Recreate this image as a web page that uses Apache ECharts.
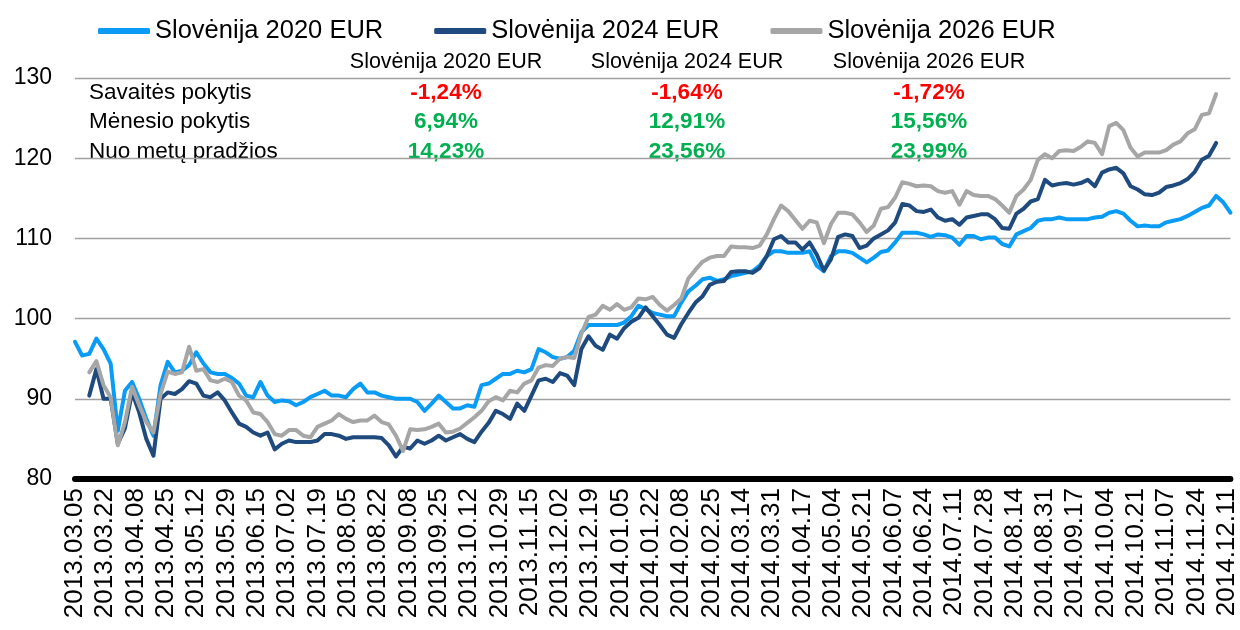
<!DOCTYPE html>
<html>
<head>
<meta charset="utf-8">
<script src="https://cdn.jsdelivr.net/npm/echarts@6/dist/echarts.min.js"></script>
<style>html,body{margin:0;padding:0;background:#fff}#c{width:1240px;height:630px}</style>
</head>
<body>
<div id="c"></div>
<script>
// ---- data ----
const startDate = '2013-03-05';     // first category date
const stepDays = 4;                  // spacing of the sampled observations (days)
const labelEveryDays = 17;           // x-axis label spacing (days)
const lastLabelDay = 646;            // 2014.12.11

const seriesNames = ['Slovėnija 2020 EUR', 'Slovėnija 2024 EUR', 'Slovėnija 2026 EUR'];

const s2020 = [97.1,95.4,95.6,97.5,96.2,94.4,86,91,92.1,90,87.5,85.4,91.7,94.6,93.3,93.5,94.2,95.8,94.4,93.3,
93.1,93.1,92.6,91.9,90.4,90.2,92.1,90.4,89.6,89.8,89.7,89.2,89.6,90.2,90.6,91.0,90.4,90.4,90.2,91.2,
91.9,90.8,90.8,90.4,90.2,90,90,90,89.6,88.5,89.4,90.4,89.6,88.8,88.8,89.2,89,91.7,91.9,92.5,
93.1,93.1,93.5,93.3,93.7,96.2,95.8,95.2,95,95.2,96,98.3,99.2,99.2,99.2,99.2,99.2,99.5,100.3,101.6,
101.2,100.7,100.5,100.3,100.3,102,103.4,104.1,104.9,105.1,104.7,104.9,105.3,105.5,105.7,105.9,106.6,107.8,108.4,108.4,
108.2,108.2,108.2,108.4,106.6,105.9,107.8,108.4,108.4,108.2,107.6,107,107.6,108.3,108.5,109.5,110.7,110.7,110.7,110.5,
110.2,110.5,110.4,110.1,109.2,110.3,110.3,109.9,110.1,110.1,109.3,109,110.5,110.9,111.3,112.2,112.4,112.4,112.6,112.4,
112.4,112.4,112.4,112.6,112.7,113.2,113.4,113.1,112.2,111.5,111.6,111.5,111.5,112,112.2,112.4,112.8,113.3,113.8,114.1,
115.3,114.5,113.2];

const s2024 = [null,null,90.4,93.7,90,90,84.4,86.3,90.8,88.3,85,82.9,90,90.8,90.6,91.2,92.2,91.9,90.4,90.2,
90.8,89.8,88.3,86.9,86.5,85.8,85.4,85.8,83.7,84.4,84.8,84.6,84.6,84.6,84.8,85.6,85.6,85.4,85,85.2,
85.2,85.2,85.2,85.1,84.2,82.8,84,83.8,84.8,84.4,84.8,85.4,84.8,85.2,85.6,85,84.6,85.9,87,88.5,
88.1,87.5,89.4,88.5,90.4,92.3,92.5,92.1,93.2,92.9,91.7,96.2,97.8,96.6,96.1,98,97.5,98.8,99.6,100.1,
101.4,100.3,99.2,98,97.6,99.3,100.7,102,102.8,104.2,104.6,104.7,105.8,105.9,105.9,105.7,106.3,107.8,109.9,110.3,
109.5,109.5,108.6,109.5,108,106,107.4,110.2,110.5,110.3,108.8,109.1,110,110.5,111,112,114.3,114.1,113.4,113.3,
113.6,112.6,112.2,112.4,111.7,112.6,112.8,113,113,112.4,111.3,111.2,113.1,113.7,114.6,114.9,117.3,116.6,116.8,116.9,
116.7,116.9,117.3,116.5,118.2,118.6,118.8,118.1,116.5,116.1,115.5,115.4,115.7,116.4,116.6,116.9,117.4,118.3,119.8,120.3,
121.9];

const s2026 = [null,null,93.3,94.7,91.7,90.2,84.2,87.1,91.5,89.2,87.1,85.8,90.6,93.4,93.1,93.3,96.5,93.5,93.7,92.3,
92.1,92.5,92.1,90.4,89.8,88.3,88.1,87.1,85.6,85.4,86.1,86.1,85.4,85.2,86.5,86.9,87.3,88.1,87.5,87.1,
87.3,87.3,87.9,87.1,86.8,85.4,83.5,86.2,86.1,86.2,86.5,86.9,85.8,85.9,86.3,87,87.7,88.5,89.7,90.2,
89.8,91,90.8,91.9,92.3,93.9,94.2,94.1,95,95.2,95.1,98.1,100.2,100.5,101.6,101.1,101.8,101.1,101.4,102.5,
102.4,102.7,101.7,101,101.7,102.5,105,106.1,107.1,107.6,107.8,107.8,109,108.9,108.9,108.8,109.1,110.5,112.4,114.1,
113.4,112.3,111.2,112.2,112,109.4,111.8,113.2,113.2,113,112,110.8,111.6,113.7,113.9,115.1,117,116.8,116.5,116.6,
116.5,115.9,115.7,115.9,114.2,115.9,115.4,115.3,115.3,114.9,114.1,113.2,115.3,116.1,117.3,119.8,120.5,120,120.9,121,
120.9,121.4,122.1,121.9,120.5,124,124.4,123.5,121.3,120.2,120.7,120.7,120.7,121,121.7,122.1,123.1,123.6,125.4,125.6,
128];

const yTicks = [80, 90, 100, 110, 120, 130];

const tableRowLabels = ['Savaitės pokytis', 'Mėnesio pokytis', 'Nuo metų pradžios'];
const weeklyChange = ['-1,24%', '-1,64%', '-1,72%'];
const monthlyChange = ['6,94%', '12,91%', '15,56%'];
const ytdChange = ['14,23%', '23,56%', '23,99%'];

// ---- build ----
const colors = ['#0a9cf5', '#1f4a7e', '#a6a6a6'];
const FONT = "'Liberation Sans', Arial, sans-serif";
const t0 = Date.UTC(2013, 2, 5);
function pad(n){return n < 10 ? '0' + n : '' + n;}
function dayLabel(d){
  const dt = new Date(t0 + d * 86400000);
  return dt.getUTCFullYear() + '.' + pad(dt.getUTCMonth() + 1) + '.' + pad(dt.getUTCDate());
}
function toPoints(arr){
  const out = [];
  arr.forEach((v, i) => { if (v !== null) out.push([i * stepDays, v]); });
  return out;
}
const allSeries = [s2020, s2024, s2026];

const colX = [446, 687, 929];
const headerY = 62;
const rowY = [93, 122, 152];
const graphics = [];
seriesNames.forEach((n, j) => graphics.push({
  type: 'text', x: colX[j], y: headerY,
  style: {text: n, font: '21.5px ' + FONT, fill: '#000', textAlign: 'center', textVerticalAlign: 'middle'}
}));
const rowsVals = [weeklyChange, monthlyChange, ytdChange];
tableRowLabels.forEach((lab, r) => {
  graphics.push({type: 'text', x: 89, y: rowY[r],
    style: {text: lab, font: '22.5px ' + FONT, fill: '#000', textAlign: 'left', textVerticalAlign: 'middle'}});
  rowsVals[r].forEach((v, j) => graphics.push({type: 'text', x: colX[j], y: rowY[r],
    style: {text: v, font: 'bold 22.5px ' + FONT, fill: v.trim().charAt(0) === '-' ? '#ff0000' : '#00b050',
      textAlign: 'center', textVerticalAlign: 'middle'}}));
});

const chart = echarts.init(document.getElementById('c'), null, {renderer: 'canvas'});
chart.setOption({
  animation: false,
  backgroundColor: '#fff',
  textStyle: {fontFamily: FONT},
  legend: {
    left: 93, top: 13, itemWidth: 52, itemHeight: 6, itemGap: 51, icon: 'roundRect',
    textStyle: {fontSize: 25.5, color: '#000', fontFamily: FONT},
    data: seriesNames
  },
  grid: {left: 75, right: 9.6, top: 78, bottom: 151, containLabel: false},
  xAxis: {
    type: 'value', min: 0, max: 648, interval: labelEveryDays,
    axisLine: {show: true, lineStyle: {color: '#000', width: 6}},
    axisTick: {show: false},
    splitLine: {show: false},
    axisLabel: {
      rotate: 90, fontSize: 26, color: '#000', margin: 9, fontFamily: FONT,
      formatter: v => (v % labelEveryDays === 0 && v <= lastLabelDay) ? dayLabel(v) : ''
    }
  },
  yAxis: {
    type: 'value', min: yTicks[0], max: yTicks[yTicks.length - 1], interval: 10,
    axisLine: {show: false}, axisTick: {show: false},
    splitLine: {lineStyle: {color: '#a0a0a0', width: 1.3}},
    axisLabel: {fontSize: 23, color: '#000', margin: 23, fontFamily: FONT}
  },
  graphic: graphics,
  series: allSeries.map((arr, k) => ({
    name: seriesNames[k], type: 'line', data: toPoints(arr),
    showSymbol: false, symbol: 'none',
    lineStyle: {color: colors[k], width: 4, join: 'round', cap: 'round'},
    itemStyle: {color: colors[k]},
    z: 2 + k
  }))
});
</script>
</body>
</html>
